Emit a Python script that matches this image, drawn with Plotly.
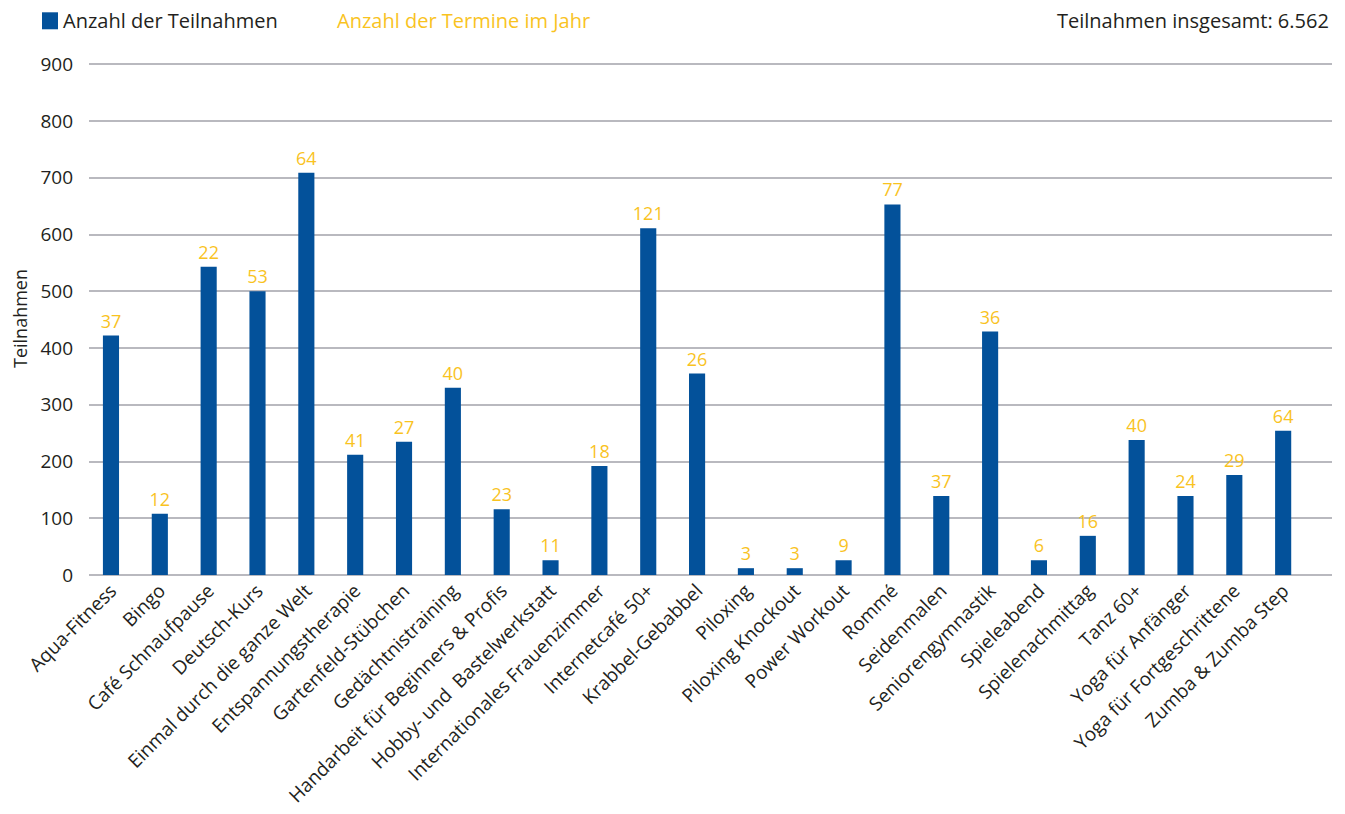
import plotly.graph_objects as go

categories = [
    "Aqua-Fitness", "Bingo", "Café Schnaufpause", "Deutsch-Kurs",
    "Einmal durch die ganze Welt", "Entspannungstherapie", "Gartenfeld-Stübchen",
    "Gedächtnistraining", "Handarbeit für Beginners & Profis",
    "Hobby- und  Bastelwerkstatt", "Internationales Frauenzimmer",
    "Internetcafé 50+", "Krabbel-Gebabbel", "Piloxing", "Piloxing Knockout",
    "Power Workout", "Rommé", "Seidenmalen", "Seniorengymnastik", "Spieleabend",
    "Spielenachmittag", "Tanz 60+", "Yoga für Anfänger",
    "Yoga für Fortgeschrittene", "Zumba & Zumba Step",
]
teilnahmen = [422, 108, 543, 500, 709, 212, 235, 330, 116, 26, 192, 611, 355,
              12, 12, 26, 653, 139, 429, 26, 69, 238, 139, 176, 254]
termine = [37, 12, 22, 53, 64, 41, 27, 40, 23, 11, 18, 121, 26,
           3, 3, 9, 77, 37, 36, 6, 16, 40, 24, 29, 64]
y_ticks = [0, 100, 200, 300, 400, 500, 600, 700, 800, 900]
total_label = "Teilnahmen insgesamt: 6.562"

BLUE = "#03519A"
YELLOW = "#F9C31F"
TEXT = "#231f20"
GRID = "#b9b9bf"
FONT = "Open Sans, Noto Sans, sans-serif"

# page body has an 8px margin -> layout coordinates are shifted by 8px
OFF = 8
W, H = 1345, 814
Y_TOP = 904                      # a little headroom so the 900 gridline is drawn
PX_PER_UNIT = (575 - 64) / 900.0
L = 89 - OFF
R = W - (1332 - OFF)
B = H - (575 - OFF)
T = (575 - OFF) - Y_TOP * PX_PER_UNIT

fig = go.Figure()
fig.add_trace(go.Bar(
    x=categories, y=teilnahmen, name="Anzahl der Teilnahmen",
    marker=dict(color=BLUE, line=dict(width=0)),
    width=0.33,
    text=[str(t) for t in termine], textposition="outside",
    constraintext="none",
    textfont=dict(color=YELLOW, size=18, family=FONT),
    cliponaxis=False, showlegend=False,
))

fig.update_layout(
    width=W, height=H,
    margin=dict(l=L, r=R, t=T, b=B, autoexpand=False),
    paper_bgcolor="white", plot_bgcolor="white",
    font=dict(family=FONT, color=TEXT, size=18),
    xaxis=dict(
        range=[-0.45, 25.0], tickangle=-45, showgrid=False, showline=False,
        ticks="", tickfont=dict(size=19, color=TEXT), automargin=False,
    ),
    yaxis=dict(
        range=[0, Y_TOP], tickvals=y_ticks, showgrid=True, gridcolor=GRID,
        gridwidth=1.5, zeroline=True, zerolinecolor=GRID, zerolinewidth=1.5,
        showline=False, ticks="", tickfont=dict(size=19, color=TEXT),
        ticklabelstandoff=15, automargin=False,
        title=dict(text="Teilnahmen", font=dict(size=18, color=TEXT), standoff=18),
    ),
)

def px_x(x):
    return (x - OFF - L) / (W - L - R)

def px_y(y):
    return 1 - (y - OFF - T) / (H - T - B)

# legend-like header
fig.add_shape(type="rect", xref="paper", yref="paper",
              x0=px_x(42), x1=px_x(58), y0=px_y(29), y1=px_y(12),
              fillcolor=BLUE, line=dict(width=0))
fig.add_annotation(xref="paper", yref="paper", x=px_x(61), y=px_y(20),
                   text="Anzahl der Teilnahmen", showarrow=False,
                   xanchor="left", yanchor="middle",
                   font=dict(size=20, color=TEXT, family=FONT))
fig.add_annotation(xref="paper", yref="paper", x=px_x(335), y=px_y(20),
                   text="Anzahl der Termine im Jahr", showarrow=False,
                   xanchor="left", yanchor="middle",
                   font=dict(size=20, color=YELLOW, family=FONT))
fig.add_annotation(xref="paper", yref="paper", x=px_x(1331), y=px_y(20),
                   text=total_label, showarrow=False,
                   xanchor="right", yanchor="middle",
                   font=dict(size=20, color=TEXT, family=FONT))

fig.write_html("out.html")
